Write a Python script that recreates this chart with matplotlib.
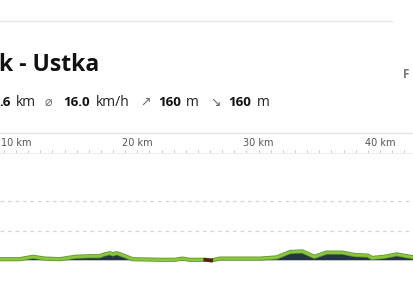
import matplotlib
matplotlib.use('Agg')
import matplotlib.pyplot as plt
from matplotlib.ticker import MultipleLocator

# elevation profile (km, m)
dist_km = [8.68, 10.3, 11.4, 12.4, 13.6, 14.9, 16.1, 16.9, 17.3, 17.75, 18.0, 18.3,
           19.0, 19.6, 21.9, 23.1, 23.7, 24.3, 25.6, 26.1, 26.8, 28.5, 30.1, 31.5,
           32.6, 33.6, 34.6, 35.6, 36.9, 37.9, 39.0, 39.35, 40.35, 41.4, 42.2, 42.8]
elev_m = [3, 3, 7, 4, 3, 7, 8, 8, 11, 13, 11, 13,
          8, 3, 2, 2, 4, 2, 2, 1, 4, 4, 4, 6,
          15, 16, 7, 14, 14, 10, 9, 5, 7, 11, 8, 6]
tick_km = [10, 20, 30, 40]
tick_labels = ["10 km", "20 km", "30 km", "40 km"]
grid_m = [50, 100]

title = "k - Ustka"
stats = [(".6", "km"), ("16.0", "km/h"), ("160", "m"), ("160", "m")]
icons = ["\u2300", "\u2197", "\u2198"]

W, H = 414, 286
fig = plt.figure(figsize=(W / 100, H / 100), dpi=100)
fonts = ['Open Sans', 'DejaVu Sans']

# page overlay in pixel coords
ov = fig.add_axes([0, 0, 1, 1])
ov.set_xlim(0, W)
ov.set_ylim(H, 0)
ov.axis('off')
ov.plot([0, 392], [21, 21], color='#e6e6e6', lw=1)
ov.plot([0, W], [133, 133], color='#e3e3e3', lw=1)

ov.text(-1, 71, title, fontsize=16.5, fontweight='bold', family=fonts,
        color='#111111', va='baseline', ha='left')
ov.text(403, 78, "F", fontsize=8.5, fontweight='bold', family=fonts,
        color='#777777', va='baseline', ha='left')

# stats row
num_x = [-1, 63, 158, 228]
unit_x = [16, 96, 186, 257]
icon_x = [45, 140, 210]
for (num, unit), nx, ux in zip(stats, num_x, unit_x):
    ov.text(nx, 106, num, fontsize=9.6, fontweight='bold', family=fonts,
            color='#111111', va='baseline')
    ov.text(ux, 106, unit, fontsize=10, family=fonts, color='#222222', va='baseline')
for ic, ix in zip(icons, icon_x):
    ov.text(ix, 106, ic, fontsize=9, family=['DejaVu Sans'], color='#666666',
            va='baseline')

# profile chart
ax = fig.add_axes([0, 0, 1, (H - 153) / H])
ax.set_xlim(8.68, 8.68 + W / 12.13)
ax.set_ylim(-41.7, 180)
ax.set_facecolor('none')
for s in ['left', 'right', 'bottom']:
    ax.spines[s].set_visible(False)
ax.spines['top'].set_color('#eeeeee')
ax.spines['top'].set_linewidth(0.8)

ax.fill_between(dist_km, elev_m, 2, color='#253545', lw=0, zorder=2)
ax.plot(dist_km, elev_m, color='#5f9a2c', lw=3.0, zorder=3, solid_joinstyle='round')
ax.plot(dist_km, elev_m, color='#8cc63f', lw=1.8, zorder=4, solid_joinstyle='round')
ax.plot(dist_km[18:20], elev_m[18:20], color='#5a1f1a', lw=2.6, zorder=5)

for g in grid_m:
    ax.axhline(g, color='#d6d6d6', lw=0.9, ls=(0, (3, 3)), zorder=1)

ax.xaxis.tick_top()
ax.set_xticks(tick_km)
ax.set_xticklabels(tick_labels)
ax.xaxis.set_minor_locator(MultipleLocator(1))
ax.tick_params(axis='x', which='both', direction='out', length=2.5, width=0.6,
               color='#bbbbbb', labelsize=7, labelcolor='#555555', pad=1)
ax.set_yticks([])

fig.savefig('out.png', dpi=100)
